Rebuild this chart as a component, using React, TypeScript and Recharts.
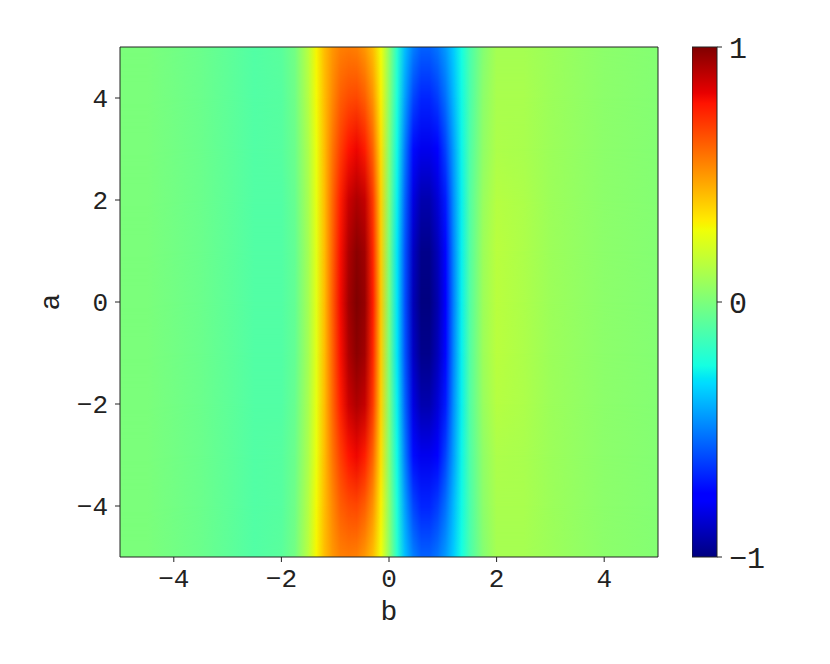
import { ScatterChart, Scatter, XAxis, YAxis, ReferenceArea } from "recharts";

// b positions of the sampled columns (denser around the two lobes)
const bValues = [
  -5, -4.5, -4, -3.5, -3, -2.5, -2, -1.75, -1.5, -1.35, -1.2, -1.05, -0.9, -0.75,
  -0.6, -0.45, -0.3, -0.15, 0, 0.15, 0.3, 0.45, 0.6, 0.75, 0.9, 1.05, 1.2, 1.35,
  1.5, 1.75, 2, 2.5, 3, 3.5, 4, 4.5, 5,
];

// values, one row per |a|
const rowA0 = [
  0, 0, -0.02, -0.04, -0.07, -0.1, -0.1, -0.06, 0.1, 0.25, 0.42, 0.62, 0.8, 0.94,
  1.0, 0.96, 0.76, 0.4, 0, -0.3, -0.6, -0.9, -1.0, -1.0, -0.92, -0.75, -0.5, -0.28,
  -0.1, 0.08, 0.15, 0.12, 0.08, 0.06, 0.04, 0.03, 0.02,
];
const rowA1 = [
  0, 0, -0.02, -0.04, -0.07, -0.1, -0.1, -0.06, 0.1, 0.25, 0.42, 0.61, 0.79, 0.92,
  0.98, 0.94, 0.74, 0.39, 0, -0.3, -0.59, -0.88, -0.98, -0.98, -0.9, -0.74, -0.49, -0.28,
  -0.1, 0.08, 0.15, 0.12, 0.08, 0.06, 0.04, 0.03, 0.02,
];
const rowA2 = [
  0, 0, -0.02, -0.04, -0.07, -0.1, -0.1, -0.05, 0.11, 0.26, 0.42, 0.6, 0.76, 0.87,
  0.92, 0.88, 0.7, 0.38, 0.01, -0.28, -0.56, -0.83, -0.92, -0.92, -0.85, -0.7, -0.47, -0.28,
  -0.1, 0.07, 0.14, 0.12, 0.08, 0.06, 0.04, 0.03, 0.02,
];
const rowA3 = [
  0, 0, -0.02, -0.04, -0.07, -0.1, -0.09, -0.04, 0.12, 0.27, 0.42, 0.57, 0.69, 0.78,
  0.81, 0.76, 0.61, 0.35, 0.02, -0.26, -0.51, -0.73, -0.81, -0.81, -0.75, -0.62, -0.44, -0.27,
  -0.11, 0.05, 0.12, 0.11, 0.08, 0.06, 0.04, 0.03, 0.02,
];
const rowA4 = [
  0, 0, -0.02, -0.04, -0.07, -0.1, -0.09, -0.03, 0.14, 0.29, 0.42, 0.53, 0.62, 0.66,
  0.67, 0.62, 0.51, 0.31, 0.04, -0.23, -0.44, -0.61, -0.68, -0.68, -0.63, -0.53, -0.39, -0.26,
  -0.12, 0.04, 0.11, 0.11, 0.08, 0.06, 0.04, 0.03, 0.02,
];
const rowA5 = [
  0, 0, -0.02, -0.04, -0.07, -0.1, -0.08, -0.02, 0.15, 0.3, 0.42, 0.5, 0.55, 0.56,
  0.55, 0.5, 0.42, 0.28, 0.05, -0.2, -0.38, -0.5, -0.56, -0.56, -0.52, -0.45, -0.35, -0.25,
  -0.12, 0.02, 0.1, 0.1, 0.08, 0.06, 0.04, 0.03, 0.02,
];

// a of each row, top to bottom
const aValues = [5, 4, 3, 2, 1, 0, -1, -2, -3, -4, -5];
const rows = [rowA5, rowA4, rowA3, rowA2, rowA1, rowA0, rowA1, rowA2, rowA3, rowA4, rowA5];

const axisTicks = [-4, -2, 0, 2, 4];
const barTicks = [-1, 0, 1];

// matplotlib "jet"
const jetR = [[0, 0], [0.35, 0], [0.66, 1], [0.89, 1], [1, 0.5]];
const jetG = [[0, 0], [0.125, 0], [0.375, 1], [0.64, 1], [0.91, 0], [1, 0]];
const jetB = [[0, 0.5], [0.11, 1], [0.34, 1], [0.65, 0], [1, 0]];
const jetStops = [0, 0.11, 0.125, 0.34, 0.35, 0.375, 0.64, 0.65, 0.66, 0.89, 0.91, 1];

function channel(pts: number[][], t: number) {
  for (let i = 1; i < pts.length; i++) {
    if (t <= pts[i][0]) {
      const [t0, c0] = pts[i - 1];
      const [t1, c1] = pts[i];
      return c0 + ((c1 - c0) * (t - t0)) / (t1 - t0);
    }
  }
  return pts[pts.length - 1][1];
}

function jetT(t: number) {
  const c = Math.max(0, Math.min(1, t));
  const r = Math.round(channel(jetR, c) * 255);
  const g = Math.round(channel(jetG, c) * 255);
  const b = Math.round(channel(jetB, c) * 255);
  return `rgb(${r},${g},${b})`;
}

const jet = (v: number) => jetT((v + 1) / 2);

const FONT = "Liberation Mono, DejaVu Sans Mono, monospace";
const INK = "#222";
const fmt = (v: number) => String(v).replace("-", "\u2212");

// overlay of the next row, faded in from top to bottom
const FadedBand = (fillId: string) => (props: any) => (
  <rect
    x={props.x}
    y={props.y}
    width={props.width}
    height={props.height}
    fill={`url(#${fillId})`}
    mask="url(#fadeDown)"
    shapeRendering="crispEdges"
  />
);

const PlainBand = (fillId: string) => (props: any) => (
  <rect
    x={props.x}
    y={props.y}
    width={props.width}
    height={props.height}
    fill={`url(#${fillId})`}
    shapeRendering="crispEdges"
  />
);

const GradientBar = (props: any) => (
  <rect
    x={props.x}
    y={props.y}
    width={props.width}
    height={props.height}
    fill="url(#jetV)"
    stroke={INK}
    strokeWidth={1}
  />
);

export default function App() {
  return (
    <div
      style={{
        position: "absolute",
        left: 0,
        top: 0,
        width: 830,
        height: 664,
        display: "flex",
        background: "#fff",
      }}
    >
      <ScatterChart width={692} height={664} margin={{ top: 47, right: 34, left: 0, bottom: 37 }}>
        <defs>
          {rows.map((row, k) => (
            <linearGradient key={k} id={`row${k}`} x1="0" y1="0" x2="1" y2="0">
              {row.map((v, i) => (
                <stop key={i} offset={(bValues[i] + 5) / 10} stopColor={jet(v)} />
              ))}
            </linearGradient>
          ))}
          <linearGradient id="fadeGrad" x1="0" y1="0" x2="0" y2="1">
            <stop offset="0" stopColor="#fff" stopOpacity={0} />
            <stop offset="1" stopColor="#fff" stopOpacity={1} />
          </linearGradient>
          <mask
            id="fadeDown"
            maskUnits="objectBoundingBox"
            maskContentUnits="objectBoundingBox"
            x="0"
            y="0"
            width="1"
            height="1"
            style={{ maskType: "alpha" } as any}
          >
            <rect x="0" y="0" width="1" height="1" fill="url(#fadeGrad)" />
          </mask>
          <linearGradient id="jetV" x1="0" y1="1" x2="0" y2="0">
            {jetStops.map((t) => (
              <stop key={t} offset={t} stopColor={jetT(t)} />
            ))}
          </linearGradient>
        </defs>
        <XAxis
          type="number"
          dataKey="b"
          domain={[-5, 5]}
          ticks={axisTicks}
          allowDataOverflow
          interval={0}
          height={70}
          axisLine={false}
          tickSize={5}
          tickMargin={7}
          tickLine={{ stroke: INK }}
          tick={{ fill: INK, fontSize: 26, fontFamily: FONT }}
          tickFormatter={fmt}
          label={{
            value: "b",
            position: "insideBottom",
            offset: 7,
            fill: INK,
            fontSize: 28,
            fontFamily: FONT,
          }}
        />
        <YAxis
          type="number"
          dataKey="a"
          domain={[-5, 5]}
          ticks={axisTicks}
          allowDataOverflow
          interval={0}
          width={120}
          axisLine={false}
          tickSize={5}
          tickMargin={7}
          tickLine={{ stroke: INK }}
          tick={{ fill: INK, fontSize: 26, fontFamily: FONT }}
          tickFormatter={fmt}
          label={{
            content: (p: any) => {
              const vb = p.viewBox;
              const x = vb.x + 51;
              const y = vb.y + vb.height / 2;
              return (
                <text
                  x={x}
                  y={y}
                  transform={`rotate(-90 ${x} ${y})`}
                  textAnchor="middle"
                  dominantBaseline="central"
                  fill={INK}
                  fontSize={28}
                  fontFamily={FONT}
                >
                  a
                </text>
              );
            },
          }}
        />
        {aValues.slice(0, -1).map((a, k) => (
          <ReferenceArea
            key={`base${k}`}
            x1={-5}
            x2={5}
            y1={aValues[k + 1]}
            y2={a}
            shape={PlainBand(`row${k}`)}
          />
        ))}
        {aValues.slice(0, -1).map((a, k) => (
          <ReferenceArea
            key={`fade${k}`}
            x1={-5}
            x2={5}
            y1={aValues[k + 1]}
            y2={a}
            shape={FadedBand(`row${k + 1}`)}
          />
        ))}
        <ReferenceArea x1={-5} x2={5} y1={-5} y2={5} fill="none" fillOpacity={0} stroke={INK} strokeWidth={1} />
        <Scatter data={[]} isAnimationActive={false} />
      </ScatterChart>

      {/* colour bar */}
      <ScatterChart width={138} height={664} margin={{ top: 47, right: 53, left: 0, bottom: 107 }}>
        <XAxis
          type="number"
          dataKey="x"
          domain={[0, 1]}
          allowDataOverflow
          height={0}
          tick={false}
          tickLine={false}
          axisLine={false}
        />
        <YAxis
          type="number"
          dataKey="v"
          orientation="right"
          domain={[-1, 1]}
          ticks={barTicks}
          allowDataOverflow
          interval={0}
          width={60}
          axisLine={false}
          tickSize={5}
          tickMargin={7}
          tickLine={{ stroke: INK }}
          tick={{ fill: INK, fontSize: 30, fontFamily: FONT }}
          tickFormatter={fmt}
        />
        <ReferenceArea x1={0} x2={1} y1={-1} y2={1} shape={GradientBar} />
        <Scatter data={[]} isAnimationActive={false} />
      </ScatterChart>
    </div>
  );
}
